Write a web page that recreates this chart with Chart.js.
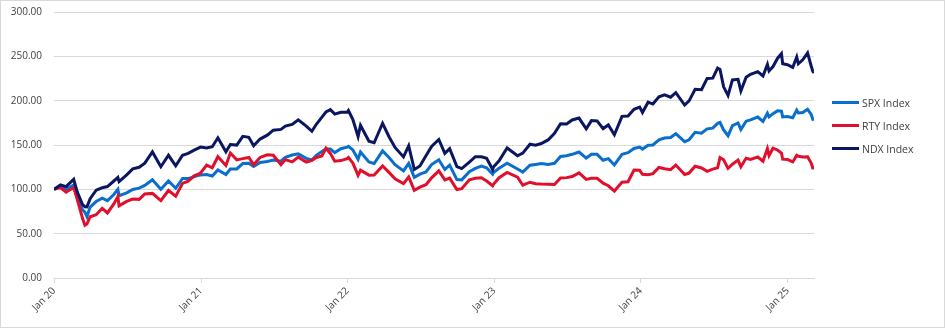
<!DOCTYPE html>
<html>
<head>
<meta charset="utf-8">
<script src="https://cdn.jsdelivr.net/npm/chart.js@4.4.1/dist/chart.umd.min.js"></script>
<style>
    html, body { margin: 0; padding: 0; background: #fff; }
    #wrap { position: relative; width: 945px; height: 328px; font-family: "Open Sans", "Noto Sans", sans-serif; }
    #frame { position: absolute; left: 0; top: 0; width: 943px; height: 326px; border: 1px solid #d9d9d9; pointer-events: none; }
    #legend { position: absolute; left: 832px; top: 91px; }
    .item { display: flex; align-items: center; height: 23px; font-size: 10.5px; color: #404040; }
    .swatch { width: 27px; height: 3px; margin-right: 3px; }
</style>
</head>
<body>
<div id="wrap">
    <canvas id="indexChart" width="945" height="328"></canvas>
    <div id="legend"></div>
    <div id="frame"></div>
</div>
<script>
// Datas das observações (mesma lista para as três séries)
const dates = [
    '2020-01-01', '2020-01-17', '2020-01-31', '2020-02-19', '2020-02-28', '2020-03-12', '2020-03-18', '2020-03-23',
    '2020-03-31', '2020-04-15', '2020-04-30', '2020-05-13', '2020-05-29', '2020-06-08', '2020-06-11', '2020-06-30',
    '2020-07-15', '2020-07-31', '2020-08-14', '2020-09-02', '2020-09-23', '2020-10-12', '2020-10-30', '2020-11-16',
    '2020-11-30', '2020-12-15', '2020-12-31',
    '2021-01-15', '2021-01-29', '2021-02-12', '2021-03-04', '2021-03-15', '2021-03-31', '2021-04-15', '2021-04-30',
    '2021-05-12', '2021-05-28', '2021-06-15', '2021-06-30', '2021-07-19', '2021-07-30', '2021-08-16', '2021-08-31',
    '2021-09-20', '2021-10-04', '2021-10-15', '2021-10-29', '2021-11-08', '2021-11-19', '2021-11-30', '2021-12-15',
    '2021-12-31',
    '2022-01-03', '2022-01-14', '2022-01-27', '2022-02-02', '2022-02-23', '2022-03-08', '2022-03-29', '2022-04-14',
    '2022-04-29', '2022-05-20', '2022-06-02', '2022-06-16', '2022-06-30', '2022-07-15', '2022-07-29', '2022-08-16',
    '2022-08-31', '2022-09-12', '2022-09-30', '2022-10-12', '2022-10-31', '2022-11-15', '2022-11-30', '2022-12-13',
    '2022-12-28', '2022-12-30',
    '2023-01-13', '2023-02-02', '2023-02-28', '2023-03-13', '2023-03-31', '2023-04-14', '2023-04-28', '2023-05-15',
    '2023-05-31', '2023-06-15', '2023-06-30', '2023-07-14', '2023-07-31', '2023-08-18', '2023-08-31', '2023-09-14',
    '2023-09-29', '2023-10-12', '2023-10-27', '2023-11-15', '2023-11-30', '2023-12-15', '2023-12-29',
    '2024-01-05', '2024-01-19', '2024-01-31', '2024-02-15', '2024-02-29', '2024-03-15', '2024-03-28', '2024-04-19',
    '2024-04-30', '2024-05-15', '2024-05-31', '2024-06-14', '2024-06-28', '2024-07-10', '2024-07-16', '2024-07-25',
    '2024-08-05', '2024-08-16', '2024-08-30', '2024-09-06', '2024-09-19', '2024-09-30', '2024-10-18', '2024-10-31',
    '2024-11-11', '2024-11-15', '2024-11-25', '2024-12-06', '2024-12-16', '2024-12-19', '2024-12-31',
    '2025-01-13', '2025-01-23', '2025-01-27', '2025-02-07', '2025-02-19', '2025-02-28', '2025-03-04', '2025-03-07'
];

const spxValues = [
    100, 103.1, 99.9, 104.8, 91.4, 76.8, 74.2, 69.2,
    80.0, 86.2, 90.1, 87.3, 94.2, 100.1, 92.9, 96.0,
    99.9, 101.3, 104.4, 110.8, 100.2, 109.4, 101.2, 112.3,
    112.1, 114.4, 116.3,
    116.7, 115.0, 121.8, 116.7, 122.9, 123.0, 129.1, 129.4,
    125.8, 130.2, 131.5, 133.1, 131.8, 136.1, 138.7, 140.0,
    134.9, 133.1, 138.4, 142.6, 145.6, 145.5, 141.4, 145.8,
    147.6,
    148.5, 144.4, 133.9, 142.1, 130.8, 129.1, 143.4, 136.0,
    127.9, 120.8, 129.3, 113.5, 117.2, 119.6, 127.9, 133.3,
    122.4, 127.3, 111.0, 110.7, 119.9, 123.6, 126.3, 124.4,
    117.1, 118.9,
    123.8, 129.4, 122.9, 119.4, 127.2, 128.1, 129.1, 128.0,
    129.4, 137.0, 137.8, 139.5, 142.1, 135.3, 139.6, 139.5,
    132.8, 134.6, 127.5, 139.4, 141.4, 146.1, 147.7,
    145.4, 149.8, 150.0, 155.7, 157.8, 158.4, 162.7, 153.8,
    155.9, 164.3, 163.4, 168.2, 169.0, 174.4, 175.4, 167.1,
    160.5, 171.9, 174.9, 167.4, 176.9, 178.4, 181.5, 176.6,
    185.8, 181.7, 185.4, 188.5, 188.1, 181.6, 182.1,
    180.7, 189.4, 186.1, 186.6, 190.2, 184.4, 178.9, 178.6
];

const rtyValues = [
    100, 101.9, 96.8, 102.0, 88.5, 67.3, 59.4, 60.8,
    69.1, 71.4, 78.6, 73.4, 83.6, 91.8, 81.3, 86.4,
    89.0, 88.7, 94.7, 95.4, 87.2, 98.7, 92.2, 106.7,
    109.1, 115.2, 118.4,
    127.3, 124.3, 136.8, 127.0, 141.0, 133.2, 134.6, 135.9,
    127.8, 136.0, 139.0, 138.5, 127.7, 133.5, 130.9, 136.3,
    130.8, 132.7, 135.9, 137.7, 146.4, 140.5, 131.8, 132.4,
    134.6,
    136.0, 129.6, 115.8, 121.7, 116.0, 116.2, 126.3, 119.1,
    111.8, 106.4, 113.9, 98.9, 102.4, 105.2, 113.0, 120.8,
    110.6, 112.6, 99.8, 100.8, 110.7, 112.4, 113.1, 109.4,
    104.1, 105.6,
    113.1, 119.0, 113.7, 104.6, 108.0, 106.4, 106.0, 105.8,
    105.4, 112.7, 113.2, 114.4, 118.6, 111.2, 112.5, 112.4,
    107.0, 104.0, 98.1, 108.0, 108.5, 121.7, 121.5,
    117.0, 116.5, 117.7, 124.7, 123.2, 122.2, 127.4, 116.7,
    118.3, 126.1, 124.1, 120.3, 122.8, 124.3, 135.7, 133.3,
    123.6, 128.3, 133.0, 125.4, 135.1, 133.7, 136.5, 131.7,
    145.9, 138.1, 146.4, 144.4, 140.9, 134.0, 133.7,
    130.9, 138.3, 137.2, 136.6, 136.7, 129.7, 124.1, 124.0
];

const ndxValues = [
    100, 105.0, 103.0, 111.3, 96.9, 82.7, 80.4, 80.2,
    89.5, 99.1, 101.8, 103.1, 109.4, 113.4, 108.7, 116.3,
    123.1, 124.9, 129.6, 142.2, 125.5, 138.4, 126.6, 138.5,
    140.5, 144.2, 147.6,
    146.6, 148.0, 158.1, 142.3, 150.5, 149.9, 159.8, 158.7,
    149.2, 156.7, 161.1, 166.7, 167.6, 171.3, 173.3, 178.4,
    171.3, 165.5, 173.4, 181.5, 187.2, 189.8, 184.8, 186.9,
    186.9,
    188.9, 178.8, 159.6, 172.2, 154.3, 152.5, 174.5, 159.3,
    147.2, 136.6, 149.1, 122.4, 126.3, 137.9, 148.3, 156.2,
    140.5, 145.9, 125.6, 123.4, 130.6, 136.8, 136.8, 135.1,
    122.3, 125.3,
    132.2, 146.6, 137.9, 140.8, 150.9, 149.8, 151.7, 155.7,
    163.2, 173.9, 173.8, 178.2, 180.4, 168.3, 177.5, 177.2,
    168.5, 172.6, 161.6, 182.3, 182.6, 190.3, 192.7,
    186.7, 198.3, 196.2, 204.3, 206.6, 203.9, 209.0, 195.1,
    199.7, 212.9, 212.3, 225.1, 225.4, 236.7, 235.1, 215.6,
    206.0, 223.4, 224.1, 210.9, 226.4, 229.7, 232.7, 227.8,
    240.8, 233.5, 238.5, 247.6, 253.0, 241.7, 240.6,
    237.5, 249.2, 241.6, 246.1, 253.9, 239.1, 233.1, 231.3
];

// Rótulos do eixo X (um por ano)
const tickDates = ['2020-01-01', '2021-01-01', '2022-01-01', '2023-01-01', '2024-01-01', '2025-01-01'];
const tickLabels = ['Jan 20', 'Jan 21', 'Jan 22', 'Jan 23', 'Jan 24', 'Jan 25'];

const seriesNames = ['SPX Index', 'RTY Index', 'NDX Index'];
const seriesColors = ['#0A6FCC', '#E0102C', '#0B1660'];

const IndexChart = {
    /**
     * Converte 'YYYY-MM-DD' em dias desde 01/01/2020
     */
    toDay: function(s) {
        const p = s.split('-').map(Number);
        return (Date.UTC(p[0], p[1] - 1, p[2]) - Date.UTC(2020, 0, 1)) / 86400000;
    },

    init: function() {
        this.buildLegend();
        this.drawChart();
    },

    buildLegend: function() {
        const box = document.getElementById('legend');
        seriesNames.forEach((name, i) => {
            const row = document.createElement('div');
            row.className = 'item';
            row.innerHTML = '<span class="swatch" style="background:' + seriesColors[i] + '"></span>' + name;
            box.appendChild(row);
        });
    },

    drawChart: function() {
        const days = dates.map(d => this.toDay(d));
        const tickDays = tickDates.map(d => this.toDay(d));
        const values = [spxValues, rtyValues, ndxValues];

        const datasets = values.map((vals, i) => ({
            label: seriesNames[i],
            data: vals.map((v, j) => ({ x: days[j], y: v })),
            borderColor: seriesColors[i],
            backgroundColor: seriesColors[i],
            borderWidth: 3,
            pointRadius: 0,
            tension: 0,
            order: 3 - i
        }));

        const axisFont = { family: '"Open Sans", "Noto Sans", sans-serif', size: 10 };

        new Chart(document.getElementById('indexChart'), {
            type: 'line',
            data: { datasets: datasets },
            options: {
                responsive: false,
                animation: false,
                devicePixelRatio: 1,
                layout: { padding: { top: 12, right: 131, bottom: 0, left: 0 } },
                plugins: {
                    legend: { display: false },
                    tooltip: { enabled: false }
                },
                scales: {
                    x: {
                        type: 'linear',
                        min: 0,
                        max: days[days.length - 1],
                        afterBuildTicks: function(scale) {
                            scale.ticks = tickDays.map(v => ({ value: v }));
                        },
                        afterFit: function(scale) {
                            scale.height = 50;
                        },
                        ticks: {
                            autoSkip: false,
                            minRotation: 45,
                            maxRotation: 45,
                            color: '#404040',
                            font: axisFont,
                            padding: 2,
                            callback: function(value, index) {
                                return tickLabels[index];
                            }
                        },
                        grid: {
                            drawOnChartArea: false,
                            tickLength: 5,
                            color: '#d9d9d9'
                        },
                        border: { color: '#d9d9d9' }
                    },
                    y: {
                        min: 0,
                        max: 300,
                        afterFit: function(scale) {
                            // largura fixa e sem folga extra em cima/embaixo
                            scale.width = 54;
                            scale.paddingTop = 0;
                            scale.paddingBottom = 0;
                        },
                        ticks: {
                            stepSize: 50,
                            color: '#404040',
                            font: axisFont,
                            padding: 12,
                            callback: function(value) {
                                return value.toFixed(2);
                            }
                        },
                        grid: {
                            color: '#d9d9d9',
                            drawTicks: false
                        },
                        border: { display: false }
                    }
                }
            }
        });
    }
};

IndexChart.init();
</script>
</body>
</html>
